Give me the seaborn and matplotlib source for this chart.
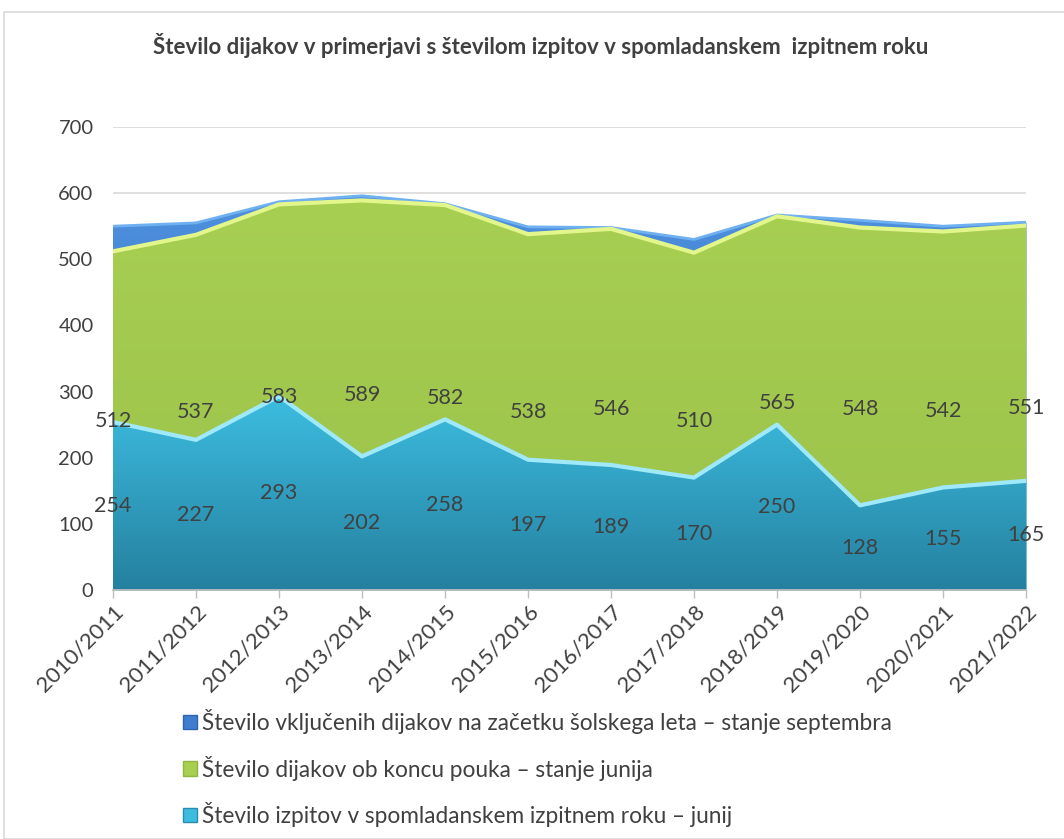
import numpy as np
import pandas as pd
import matplotlib
matplotlib.use("Agg")
import matplotlib.pyplot as plt
import seaborn as sns
from matplotlib.patches import Patch
from matplotlib.colors import LinearSegmentedColormap

# ------------------ DATA ------------------
years = ["2010/2011", "2011/2012", "2012/2013", "2013/2014", "2014/2015", "2015/2016",
         "2016/2017", "2017/2018", "2018/2019", "2019/2020", "2020/2021", "2021/2022"]
september = [550, 555, 587, 596, 584, 549, 548, 530, 567, 559, 550, 556]
june = [512, 537, 583, 589, 582, 538, 546, 510, 565, 548, 542, 551]
exams = [254, 227, 293, 202, 258, 197, 189, 170, 250, 128, 155, 165]

labels = ["Število vključenih dijakov na začetku šolskega leta – stanje septembra",
          "Število dijakov ob koncu pouka – stanje junija",
          "Število izpitov v spomladanskem izpitnem roku – junij"]

df = pd.DataFrame({"year": years, "sep": september, "jun": june, "exam": exams})
df["x"] = np.arange(len(df))

# ------------------ STYLE ------------------
sns.set_theme(style="white")
plt.rcParams["font.family"] = ["Lato", "DejaVu Sans"]
TXT = "#404040"

fig = plt.figure(figsize=(10.64, 8.39), dpi=100)
ax = fig.add_axes([113 / 1064, 1 - 590 / 839, (1026 - 113) / 1064, (590 - 127) / 839])

# outer chart border
fig.add_artist(plt.Rectangle((4 / 1064, 0.0), 1.2, 1 - 12 / 839, transform=fig.transFigure,
                             fill=False, edgecolor="#d9d9d9", lw=1.2))


def gradient_area(col, top_c, bot_c, edge_c, z, lw=3.0):
    cmap = LinearSegmentedColormap.from_list("g", [bot_c, top_c])
    poly = ax.fill_between(df["x"], 0, df[col], color=top_c, lw=0, zorder=z)
    grad = np.linspace(0, 1, 256).reshape(-1, 1)
    im = ax.imshow(grad, cmap=cmap, aspect="auto", origin="lower",
                   extent=[0, len(df) - 1, 0, df[col].max()], zorder=z + 0.1)
    im.set_clip_path(poly.get_paths()[0], transform=ax.transData)
    sns.lineplot(data=df, x="x", y=col, color=edge_c, lw=lw, ax=ax, zorder=z + 0.2)


gradient_area("sep", "#4f92e0", "#2b5fae", "#6fb0f0", 1, lw=2.0)
gradient_area("jun", "#a7cf52", "#9cc24a", "#e2f68c", 2)
gradient_area("exam", "#3cbde0", "#25809f", "#9fe9fb", 3)

# data labels at half height, like the original
for i, r in df.iterrows():
    ax.text(r["x"], r["jun"] / 2, str(r["jun"]), ha="center", va="center",
            fontsize=15.5, color=TXT, zorder=10)
    ax.text(r["x"], r["exam"] / 2, str(r["exam"]), ha="center", va="center",
            fontsize=15.5, color=TXT, zorder=10)

ax.set_xlim(0, len(df) - 1)
ax.set_ylim(0, 700)
ax.set_yticks(range(0, 701, 100))
ax.set_yticklabels([str(v) for v in range(0, 701, 100)], fontsize=14.5, color=TXT)
ax.set_xticks(df["x"])
ax.set_xticklabels(df["year"], rotation=45, ha="right", rotation_mode="anchor",
                   fontsize=16, color=TXT)
ax.tick_params(axis="y", length=0, pad=14)
ax.tick_params(axis="x", length=6, color="#bfbfbf", width=1, direction="out", pad=2)
ax.xaxis.set_ticks_position("bottom")
ax.grid(axis="y", color="#d9d9d9", lw=1.2, zorder=0)
ax.set_axisbelow(True)
for s in ["top", "right", "left"]:
    ax.spines[s].set_visible(False)
ax.spines["bottom"].set_color("#bfbfbf")
ax.spines["bottom"].set_zorder(20)
ax.set_xlabel("")
ax.set_ylabel("")

fig.text(541 / 1064, 1 - 46 / 839,
         "Število dijakov v primerjavi s številom izpitov v spomladanskem  izpitnem roku",
         ha="center", va="center", fontsize=16, fontweight="bold", color=TXT)

handles = [Patch(facecolor="#3e7ecf", edgecolor="#2f62b0"),
           Patch(facecolor="#a7cf52", edgecolor="#8fb540"),
           Patch(facecolor="#3cbde0", edgecolor="#2a8db0")]
fig.legend(handles, labels, loc="upper left", bbox_to_anchor=(183 / 1064, 1 - 709 / 839),
           frameon=False, fontsize=16.3, labelcolor=TXT, handlelength=0.62, handleheight=0.62,
           handletextpad=0.2, labelspacing=0.95, borderaxespad=0, borderpad=0)

fig.savefig("out.png", dpi=100)
